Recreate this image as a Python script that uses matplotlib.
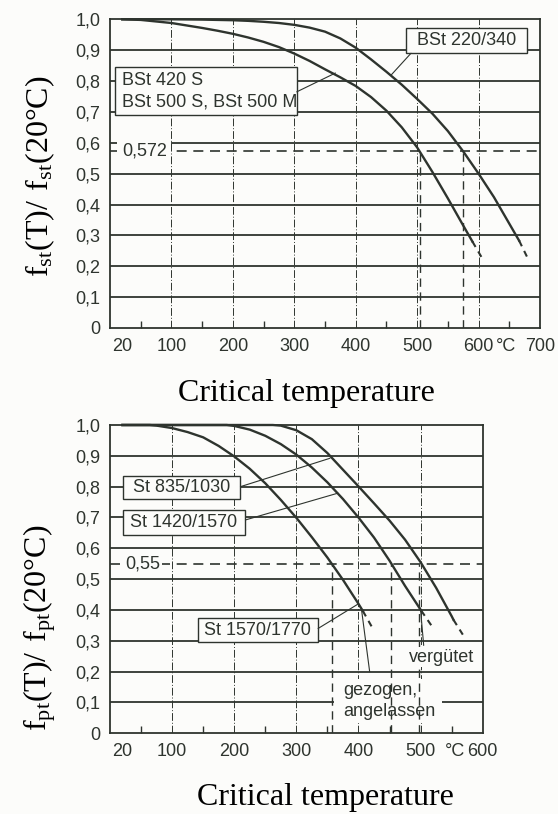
import matplotlib
matplotlib.use("Agg")
import matplotlib.pyplot as plt
from matplotlib.patches import Rectangle

# ---------------- data ----------------
# top chart: reinforcing steel
top_T_420 = [20, 50, 75, 100, 125, 150, 175, 200, 225, 250, 275, 300, 325, 350, 375, 400,
             425, 450, 475, 500, 525, 550, 575, 590]
top_f_420 = [1.0, 0.998, 0.993, 0.988, 0.980, 0.972, 0.963, 0.953, 0.941, 0.927, 0.910, 0.889,
             0.865, 0.838, 0.812, 0.784, 0.748, 0.704, 0.650, 0.585, 0.505, 0.420, 0.332, 0.280]
top_T_420_dash = [590, 607]
top_f_420_dash = [0.280, 0.222]

top_T_220 = [20, 100, 150, 200, 225, 250, 275, 300, 325, 350, 375, 400, 425, 450, 475, 500,
             525, 550, 575, 600, 625, 650, 666]
top_f_220 = [1.0, 1.0, 0.999, 0.997, 0.995, 0.992, 0.988, 0.982, 0.973, 0.960, 0.938, 0.908,
             0.870, 0.830, 0.788, 0.742, 0.694, 0.638, 0.572, 0.500, 0.424, 0.338, 0.283]
top_T_220_dash = [666, 681]
top_f_220_dash = [0.283, 0.222]

top_ref_value = 0.572
top_ref_temps = [505, 575]

# bottom chart: prestressing steel
bot_T_1570 = [20, 64, 75, 100, 125, 150, 175, 200, 225, 250, 275, 300, 325, 350, 375, 400, 407]
bot_f_1570 = [1.0, 1.0, 0.998, 0.990, 0.977, 0.960, 0.932, 0.898, 0.858, 0.811, 0.757, 0.699,
              0.636, 0.570, 0.498, 0.420, 0.397]
bot_T_1570_dash = [407, 423]
bot_f_1570_dash = [0.397, 0.34]

bot_T_1420 = [20, 188, 200, 225, 250, 275, 300, 325, 350, 375, 400, 425, 450, 475, 501]
bot_f_1420 = [1.0, 1.0, 0.997, 0.985, 0.965, 0.938, 0.904, 0.862, 0.814, 0.760, 0.700, 0.635,
              0.560, 0.478, 0.398]
bot_T_1420_dash = [501, 519]
bot_f_1420_dash = [0.398, 0.345]

bot_T_835 = [20, 262, 275, 300, 325, 350, 375, 400, 425, 450, 475, 500, 525, 550, 553]
bot_f_835 = [1.0, 1.0, 0.998, 0.983, 0.954, 0.909, 0.855, 0.801, 0.746, 0.690, 0.628, 0.555,
             0.472, 0.380, 0.368]
bot_T_835_dash = [553, 568]
bot_f_835_dash = [0.368, 0.32]

bot_ref_value = 0.55
bot_ref_temps = [357, 452, 498]

y_ticks = [0, 0.1, 0.2, 0.3, 0.4, 0.5, 0.6, 0.7, 0.8, 0.9, 1.0]
y_ticklabels = ["0", "0,1", "0,2", "0,3", "0,4", "0,5", "0,6", "0,7", "0,8", "0,9", "1,0"]
top_x_ticks = [20, 100, 200, 300, 400, 500, 600, 645, 700]
top_x_labels = ["20", "100", "200", "300", "400", "500", "600", "°C", "700"]
bot_x_ticks = [20, 100, 200, 300, 400, 500, 555, 600]
bot_x_labels = ["20", "100", "200", "300", "400", "500", "°C", "600"]
minor_x_ticks = [20, 50, 150, 250, 350, 450, 550, 650]

# ---------------- style ----------------
INK = "#2e342e"
BG = "#fcfcfa"
SANS = ["Liberation Sans", "DejaVu Sans"]
SERIF = "Liberation Serif"
TICK_FS = 13
BOX_FS = 13

fig = plt.figure(figsize=(5.58, 8.14), dpi=100, facecolor=BG)

ax1 = fig.add_axes([110/558, 1-328/814, 430/558, (328-19.3)/814])
ax2 = fig.add_axes([110/558, 1-733.3/814, 372.7/558, (733.3-425)/814])


def setup(ax, xmax, xticks, xlabels, vgrid):
    ax.set_facecolor(BG)
    ax.set_xlim(0, xmax)
    ax.set_ylim(0, 1.0)
    for s in ax.spines.values():
        s.set_color(INK)
        s.set_linewidth(1.3)
    ax.set_yticks(y_ticks)
    ax.set_yticklabels(y_ticklabels, fontfamily=SANS, fontsize=TICK_FS, color=INK)
    ax.set_xticks(xticks)
    ax.set_xticklabels(xlabels, fontfamily=SANS, fontsize=TICK_FS, color=INK)
    ax.tick_params(axis="both", length=0, pad=7)
    ax.set_xticks([t for t in minor_x_ticks if t < xmax], minor=True)
    ax.tick_params(axis="x", which="minor", direction="in", length=5, width=1, color=INK)
    for y in y_ticks[1:-1]:
        ax.axhline(y, color=INK, lw=1.3, zorder=1)
    for x in vgrid:
        ax.axvline(x, color=INK, lw=0.7, ls=(0, (8, 2, 1, 2)), zorder=1.2)


def box(ax, x0, x1, y0, y1):
    ax.add_patch(Rectangle((x0, y0), x1 - x0, y1 - y0, facecolor=BG, edgecolor=INK,
                           lw=1.0, zorder=3))


def leader(ax, p_from, p_to):
    ax.annotate("", xy=p_to, xytext=p_from,
                arrowprops=dict(arrowstyle="-", color=INK, lw=0.8, shrinkA=0, shrinkB=0),
                zorder=3.5)


def label(ax, x, y, s, ha="left"):
    ax.text(x, y, s, ha=ha, va="center", fontfamily=SANS, fontsize=BOX_FS, color=INK, zorder=5)


# ---------------- top chart ----------------
setup(ax1, 700, top_x_ticks, top_x_labels, [100, 200, 300, 400, 500, 600])
ax1.plot(top_T_420, top_f_420, color=INK, lw=1.7, zorder=4, clip_on=False)
ax1.plot(top_T_420_dash, top_f_420_dash, color=INK, lw=1.5, ls=(0, (3, 2.5)), zorder=4)
ax1.plot(top_T_220, top_f_220, color=INK, lw=1.7, zorder=4, clip_on=False)
ax1.plot(top_T_220_dash, top_f_220_dash, color=INK, lw=1.5, ls=(0, (3, 2.5)), zorder=4)

ax1.axhline(top_ref_value, color=INK, lw=1.2, ls=(0, (6, 4)), zorder=2)
for t in top_ref_temps:
    ax1.plot([t, t], [0, top_ref_value], color=INK, lw=1.0, ls=(0, (6, 4)), zorder=2)
ax1.add_patch(Rectangle((12, 0.548), 88, 0.056, facecolor=BG, edgecolor="none", zorder=2.5))
ax1.text(20, top_ref_value, "0,572", ha="left", va="center", fontfamily=SANS,
         fontsize=TICK_FS, color=INK, zorder=5)

box(ax1, 8, 304, 0.69, 0.847)
label(ax1, 20, 0.803, "BSt 420 S")
label(ax1, 20, 0.732, "BSt 500 S, BSt 500 M")
leader(ax1, (304, 0.765), (367, 0.826))

box(ax1, 482, 679, 0.89, 0.971)
label(ax1, 580, 0.93, "BSt 220/340", ha="center")
leader(ax1, (490, 0.89), (457, 0.818))

# ---------------- bottom chart ----------------
setup(ax2, 600, bot_x_ticks, bot_x_labels, [100, 200, 300, 400, 500])
for T, f, Td, fd in [(bot_T_1570, bot_f_1570, bot_T_1570_dash, bot_f_1570_dash),
                     (bot_T_1420, bot_f_1420, bot_T_1420_dash, bot_f_1420_dash),
                     (bot_T_835, bot_f_835, bot_T_835_dash, bot_f_835_dash)]:
    ax2.plot(T, f, color=INK, lw=1.7, zorder=4, clip_on=False)
    ax2.plot(Td, fd, color=INK, lw=1.5, ls=(0, (3, 2.5)), zorder=4)

ax2.axhline(bot_ref_value, color=INK, lw=1.2, ls=(0, (6, 4)), zorder=2)
for t in bot_ref_temps:
    ax2.plot([t, t], [0, bot_ref_value], color=INK, lw=1.0, ls=(0, (6, 4)), zorder=2)
ax2.add_patch(Rectangle((20, 0.525), 64, 0.05, facecolor=BG, edgecolor="none", zorder=2.5))
ax2.text(24, bot_ref_value, "0,55", ha="left", va="center", fontfamily=SANS,
         fontsize=TICK_FS, color=INK, zorder=5)

box(ax2, 21, 210, 0.76, 0.835)
label(ax2, 115, 0.797, "St 835/1030", ha="center")
leader(ax2, (210, 0.80), (354, 0.892))

box(ax2, 21, 218, 0.643, 0.725)
label(ax2, 119, 0.684, "St 1420/1570", ha="center")
leader(ax2, (218, 0.692), (367, 0.779))

box(ax2, 142, 335, 0.297, 0.373)
label(ax2, 238, 0.335, "St 1570/1770", ha="center")
leader(ax2, (335, 0.34), (400, 0.42))

ax2.add_patch(Rectangle((480, 0.215), 108, 0.065, facecolor=BG, edgecolor="none", zorder=2.5))
label(ax2, 534, 0.246, "vergütet", ha="center")
leader(ax2, (500, 0.40), (505, 0.285))

ax2.add_patch(Rectangle((360, 0.035), 175, 0.14, facecolor=BG, edgecolor="none", zorder=1.5))
label(ax2, 375, 0.14, "gezogen,")
label(ax2, 375, 0.07, "angelassen")
leader(ax2, (405, 0.40), (418, 0.20))

# ---------------- axis titles ----------------
fig.text(40/558, 1-176/814, r"$\mathregular{f_{st}(T)/\ f_{st}(20°C)}$", rotation=90,
         ha="center", va="center", fontfamily=SERIF, fontsize=23, color="black")
fig.text(40/558, 1-628/814, r"$\mathregular{f_{pt}(T)/\ f_{pt}(20°C)}$", rotation=90,
         ha="center", va="center", fontfamily=SERIF, fontsize=23, color="black")
fig.text(306/558, 1-393/814, "Critical temperature", ha="center", va="center",
         fontfamily=SERIF, fontsize=23, color="black")
fig.text(325/558, 1-797/814, "Critical temperature", ha="center", va="center",
         fontfamily=SERIF, fontsize=23, color="black")

fig.savefig("out.png", dpi=100, facecolor=BG)
